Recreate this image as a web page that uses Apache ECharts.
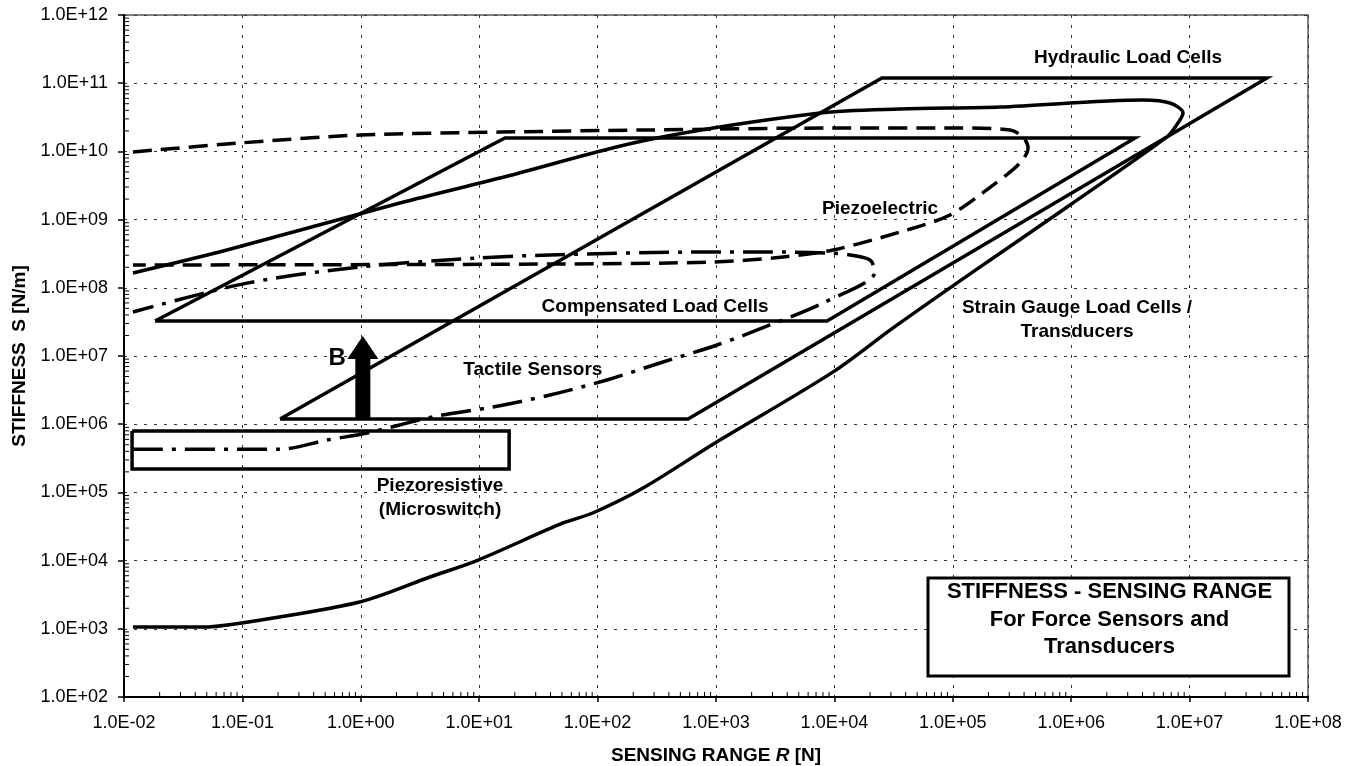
<!DOCTYPE html>
<html>
<head>
<meta charset="utf-8">
<script src="https://cdn.jsdelivr.net/npm/echarts@6/dist/echarts.min.js"></script>
<style>
  html, body { margin: 0; padding: 0; background: #fff; }
  #chart { width: 1351px; height: 766px; }
</style>
</head>
<body>
<div id="chart"></div>
<script>
// Sensing range R [N] versus stiffness S [N/m] envelopes of force sensor families

// Hydraulic load cells (closed parallelogram)
const hydraulicR = [0.208, 581, 4.5e7, 2.52e4, 0.208];
const hydraulicS = [1.19e6, 1.19e6, 1.19e11, 1.19e11, 1.19e6];

// Compensated load cells (closed parallelogram)
const compensatedR = [0.0183, 8670, 3.46e6, 16.5, 0.0183];
const compensatedS = [3.26e7, 3.26e7, 1.57e10, 1.57e10, 3.26e7];

// Piezoresistive (microswitch) band
const piezoresistiveR = [0.0117, 17.9, 17.9, 0.0117, 0.0117];
const piezoresistiveS = [7.94e5, 7.94e5, 2.2e5, 2.2e5, 7.94e5];

// Strain gauge load cells / transducers: upper branch, loop, lower branch
const strainR = [0.0119, 0.074, 2.14, 15, 261, 7550, 3.58e4, 2.5e5, 4.04e6, 6.82e6, 8.8e6,
                 7.67e6, 6.44e6, 9.78e5, 1.48e5, 3.13e4, 9.7e3, 982, 242, 91, 51, 9.8, 3.84,
                 0.98, 0.099, 0.044, 0.0119];
const strainS = [1.65e8, 3.58e8, 1.75e9, 4.07e9, 1.47e10, 3.66e10, 4.19e10, 4.48e10, 5.68e10, 5.13e10, 3.66e10,
                 2.36e10, 1.63e10, 1.64e9, 1.71e8, 2.58e7, 5.8e6, 5.3e5, 1.16e5, 4.99e4, 3.56e4, 1.02e4, 5.75e3,
                 2.47e3, 1.22e3, 1.06e3, 1.06e3];

// Piezoelectric (dashed)
const piezoelectricR = [0.0119, 0.0955, 0.98, 15, 261, 9730, 1.15e5, 3.04e5, 3.92e5, 4.32e5, 3.7e5,
                        2.19e5, 9.46e4, 3.58e4, 9730, 3680, 944, 39.6, 0.0119];
const piezoelectricS = [9.8e9, 1.33e10, 1.74e10, 1.92e10, 2.06e10, 2.2e10, 2.2e10, 2.06e10, 1.63e10, 1.12e10, 6.76e9,
                        3.21e9, 1.17e9, 6.58e8, 3.58e8, 2.83e8, 2.39e8, 2.23e8, 2.16e8];

// Tactile sensors (dash-dot)
const tactileR = [0.0119, 0.208, 0.519, 1.13, 4.07, 13.1, 39.6, 120, 336, 1020, 2860, 8340, 2.2e4,
                  2.0e4, 1.36e4, 8670, 2700, 840, 39.6, 9.6, 0.98, 0.109, 0.0119];
const tactileS = [4.3e5, 4.3e5, 5.86e5, 7.43e5, 1.28e6, 1.79e6, 2.68e6, 4.45e6, 7.9e6, 1.45e7, 2.85e7, 6.2e7, 1.71e8,
                  2.56e8, 3.03e8, 3.24e8, 3.35e8, 3.35e8, 3.03e8, 2.73e8, 2.02e8, 1.17e8, 4.42e7];

// Arrow B: shaft from S0 to S1 at R, head centred at headS
const arrowR = 1.04;
const arrowS = [1.15e6, 9.04e6];
const arrowHeadS = 1.333e7;

// Axis ranges and minor tick factors
const rangeR = [1e-2, 1e8];
const rangeS = [1e2, 1e12];
const minorFactors = [2, 3, 4, 5, 6, 7, 8, 9];

const FONT = '"Liberation Sans", Arial, Helvetica, sans-serif';
const INK = '#000';

const decadesBetween = (lo, hi) => {
  const out = [];
  for (let e = Math.round(Math.log10(lo)); e < Math.round(Math.log10(hi)); e++) out.push(Math.pow(10, e));
  return out;
};
const minorTicksR = decadesBetween(rangeR[0], rangeR[1]).flatMap(d => minorFactors.map(f => f * d));
const minorTicksS = decadesBetween(rangeS[0], rangeS[1]).flatMap(d => minorFactors.map(f => f * d));

const fmtE = v => {
  const e = Math.round(Math.log10(v));
  const a = Math.abs(e);
  return '1.0E' + (e < 0 ? '-' : '+') + (a < 10 ? '0' + a : String(a));
};

const pairs = (r, s) => r.map((v, i) => [v, s[i]]);

function outline(name, r, s, type, smooth) {
  return {
    name, type: 'line', data: pairs(r, s), symbol: 'none', smooth: smooth || false,
    silent: true, z: 3,
    lineStyle: { color: INK, width: 3.5, type: type || 'solid', cap: 'butt', join: 'miter' }
  };
}

const noteLabel = {
  show: true, position: 'inside', formatter: '{b}', color: INK, fontFamily: FONT, fontSize: 19,
  fontWeight: 'bold', lineHeight: 24, align: 'center', verticalAlign: 'middle',
  textBorderWidth: 0, opacity: 1
};

const boxText = (text, y) => ({
  type: 'text', x: 181.5, y, z: 101,
  style: { text, font: 'bold 22px ' + FONT, fill: INK, align: 'center', verticalAlign: 'middle' }
});

const chart = echarts.init(document.getElementById('chart'), null, { renderer: 'canvas' });

chart.setOption({
  animation: false,
  backgroundColor: '#fff',
  grid: {
    left: 124, right: 43, top: 15, bottom: 69,
    containLabel: false, outerBoundsMode: 'none',
    show: true, borderColor: '#555', borderWidth: 1.5, backgroundColor: 'transparent'
  },
  xAxis: {
    type: 'log', logBase: 10, min: rangeR[0], max: rangeR[1], splitNumber: 10, interval: 1,
    name: 'SENSING RANGE {i|R} [N]', nameLocation: 'middle', nameGap: 49,
    nameTextStyle: {
      fontFamily: FONT, fontSize: 19, fontWeight: 'bold', color: INK,
      rich: { i: { fontFamily: FONT, fontSize: 19, fontWeight: 'bold', fontStyle: 'italic', color: INK } }
    },
    axisLine: { show: true, lineStyle: { color: INK, width: 2 } },
    axisTick: { show: true, length: 5, interval: 0, lineStyle: { color: INK, width: 1.5 } },
    axisLabel: { formatter: fmtE, fontFamily: FONT, fontSize: 18, color: INK, margin: 17, interval: 0, showMinLabel: true, showMaxLabel: true },
    splitLine: { show: true, interval: 0, lineStyle: { color: '#333', width: 1, type: [3, 7] } }
  },
  yAxis: {
    type: 'log', logBase: 10, min: rangeS[0], max: rangeS[1], splitNumber: 10, interval: 1,
    name: 'STIFFNESS  S [N/m]', nameLocation: 'middle', nameGap: 92,
    nameTextStyle: { fontFamily: FONT, fontSize: 19, fontWeight: 'bold', color: INK },
    axisLine: { show: true, lineStyle: { color: INK, width: 2 } },
    axisTick: { show: true, length: 6, lineStyle: { color: INK, width: 1.5 } },
    axisLabel: { formatter: fmtE, fontFamily: FONT, fontSize: 18, color: INK, margin: 16, showMinLabel: true, showMaxLabel: true },
    splitLine: { show: true, lineStyle: { color: '#333', width: 1, type: [3, 7] } }
  },
  series: [
    outline('Hydraulic Load Cells', hydraulicR, hydraulicS),
    outline('Compensated Load Cells', compensatedR, compensatedS),
    outline('Piezoresistive', piezoresistiveR, piezoresistiveS),
    outline('Strain Gauge Load Cells', strainR, strainS, 'solid', 0.3),
    outline('Piezoelectric', piezoelectricR, piezoelectricS, [19, 9], 0.3),
    outline('Tactile Sensors', tactileR, tactileS, [30, 9, 4, 9], 0.3),
    {
      name: 'Arrow B shaft', type: 'line', symbol: 'none', silent: true, z: 4,
      data: [[arrowR, arrowS[0]], [arrowR, arrowS[1]]],
      lineStyle: { color: INK, width: 15, cap: 'butt' }
    },
    {
      name: 'Arrow B head', type: 'scatter', silent: true, z: 4,
      symbol: 'triangle', symbolSize: [31, 23],
      data: [[arrowR, arrowHeadS]],
      itemStyle: { color: INK, opacity: 1 }
    },
    {
      name: 'Notes', type: 'scatter', silent: true, z: 5, symbolSize: 1,
      itemStyle: { color: 'rgba(0,0,0,0)', opacity: 1 },
      label: noteLabel,
      data: [
        { name: 'Hydraulic Load Cells', value: [3.02e6, 2.34e11] },
        { name: 'Piezoelectric', value: [2.43e4, 1.43e9] },
        { name: 'Compensated Load Cells', value: [306, 5.22e7] },
        { name: 'Strain Gauge Load Cells /\nTransducers', value: [1.12e6, 3.37e7] },
        { name: 'Tactile Sensors', value: [28.4, 6.24e6] },
        { name: 'Piezoresistive\n(Microswitch)', value: [4.67, 8.28e4] },
        { name: 'B', value: [0.63, 9.3e6], label: { fontSize: 24 } }
      ],
      labelLayout: { hideOverlap: false }
    },
    {
      // minor ticks along the R axis, drawn inward from the axis line
      name: 'R minor ticks', type: 'custom', silent: true, clip: false, z: 6,
      data: minorTicksR.map(v => [v, rangeS[0]]),
      renderItem: (params, api) => {
        const p = api.coord([api.value(0), api.value(1)]);
        return { type: 'line', shape: { x1: p[0], y1: p[1], x2: p[0], y2: p[1] - 5 },
                 style: { stroke: INK, lineWidth: 1 } };
      }
    },
    {
      // minor ticks along the S axis, drawn inward from the axis line
      name: 'S minor ticks', type: 'custom', silent: true, clip: false, z: 6,
      data: minorTicksS.map(v => [rangeR[0], v]),
      renderItem: (params, api) => {
        const p = api.coord([api.value(0), api.value(1)]);
        return { type: 'line', shape: { x1: p[0], y1: p[1], x2: p[0] + 5, y2: p[1] },
                 style: { stroke: INK, lineWidth: 1 } };
      }
    }
  ],
  graphic: [{
    type: 'group', left: 926.5, top: 576.5, z: 100, zlevel: 1,
    children: [
      { type: 'rect', z: 100, shape: { x: 0, y: 0, width: 361, height: 98 },
        style: { fill: '#fff', stroke: INK, lineWidth: 3 } },
      boxText('STIFFNESS - SENSING RANGE', 14),
      boxText('For Force Sensors and', 41.5),
      boxText('Transducers', 68.5)
    ]
  }]
});
</script>
</body>
</html>
